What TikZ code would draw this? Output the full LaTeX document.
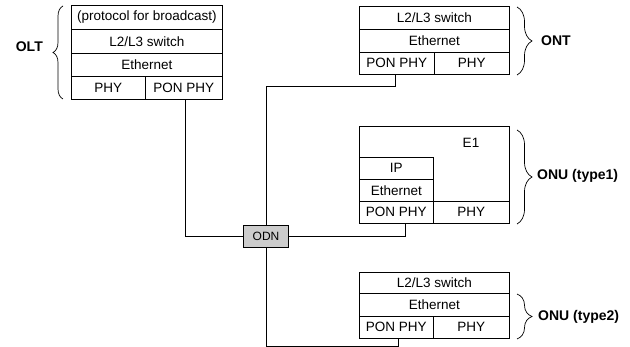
\documentclass[tikz,border=0pt]{standalone}
\usepackage{fontspec}
\setmainfont{Liberation Sans}
\usetikzlibrary{decorations.pathreplacing}
\begin{document}
\begin{tikzpicture}[x=1pt,y=-1pt,
  cell/.style={draw, line width=0.7pt, inner sep=0pt, anchor=north west,
    font=\fontsize{13.5}{14}\selectfont},
  conn/.style={line width=0.7pt},
  lbl/.style={font=\fontsize{14}{15}\selectfont\bfseries, inner sep=0pt},
  curly/.style={line width=0.7pt, decorate, decoration={brace, amplitude=#1}},
  curly/.default=15pt]
\useasboundingbox (0,0) rectangle (630,347);
% OLT
\node[cell, minimum width=151pt, minimum height=24pt] (olta) at (71,5) {(protocol for broadcast)};
\node[cell, minimum width=151pt, minimum height=24pt] (oltb) at (71,29) {L2/L3 switch};
\node[cell, minimum width=151pt, minimum height=23pt] (oltc) at (71,53) {Ethernet};
\node[cell, minimum width=74pt, minimum height=23pt] (oltd1) at (71,76) {PHY};
\node[cell, minimum width=77pt, minimum height=23pt] (oltd2) at (145,76) {PON PHY};
% ONT
\node[cell, minimum width=150pt, minimum height=23pt] (onta) at (359,6) {L2/L3 switch};
\node[cell, minimum width=150pt, minimum height=23pt] (ontb) at (359,29) {Ethernet};
\node[cell, minimum width=75pt, minimum height=22pt] (ontc1) at (359,52) {PON PHY};
\node[cell, minimum width=75pt, minimum height=22pt] (ontc2) at (434,52) {PHY};
% ONU type1
\node[cell, minimum width=150pt, minimum height=75pt] (onu1e) at (359,126) {};
\node[font=\fontsize{13.5}{14}\selectfont, inner sep=0pt] (e1txt) at (471,143) {E1};
\node[cell, minimum width=74pt, minimum height=22pt] (onu1ip) at (359,157) {IP};
\node[cell, minimum width=74pt, minimum height=22pt] (onu1eth) at (359,179) {Ethernet};
\node[cell, minimum width=74pt, minimum height=22pt] (onu1pon) at (359,201) {PON PHY};
\node[cell, minimum width=76pt, minimum height=22pt] (onu1phy) at (433,201) {PHY};
% ONU type2
\node[cell, minimum width=150pt, minimum height=21pt] (onu2a) at (359,272) {L2/L3 switch};
\node[cell, minimum width=150pt, minimum height=23pt] (onu2b) at (359,293) {Ethernet};
\node[cell, minimum width=74pt, minimum height=22pt] (onu2c1) at (359,316) {PON PHY};
\node[cell, minimum width=76pt, minimum height=22pt] (onu2c2) at (433,316) {PHY};
% ODN
\node[draw, line width=0.7pt, fill=black!20, minimum width=45pt, minimum height=22pt,
  inner sep=0pt, font=\fontsize{12}{13}\selectfont] (odn) at (266,236) {ODN};
% connectors
\draw[conn] ([xshift=1.5pt]oltd2.south) |- (odn.west);
\draw[conn] ([xshift=-1.5pt]ontc1.south) -- ++(0,12) -| (odn.north);
\draw[conn] ([xshift=9pt]onu1pon.south) |- (odn.east);
\draw[conn] ([xshift=2pt]onu2c1.south) -- ++(0,8) -| (odn.south);
% braces and labels
\draw[curly=10pt] (63,99) -- (63,6);
\node[lbl, anchor=east] (lolt) at (43,47) {OLT};
\draw[curly] (517,7) -- (517,75);
\node[lbl, anchor=west] (lont) at (541,41) {ONT};
\draw[curly] (517,130) -- (517,224);
\node[lbl, anchor=west] (lonu1) at (537,176) {ONU (type1)};
\draw[curly] (517,294) -- (517,339);
\node[lbl, anchor=west] (lonu2) at (538,317) {ONU (type2)};
\end{tikzpicture}
\end{document}
